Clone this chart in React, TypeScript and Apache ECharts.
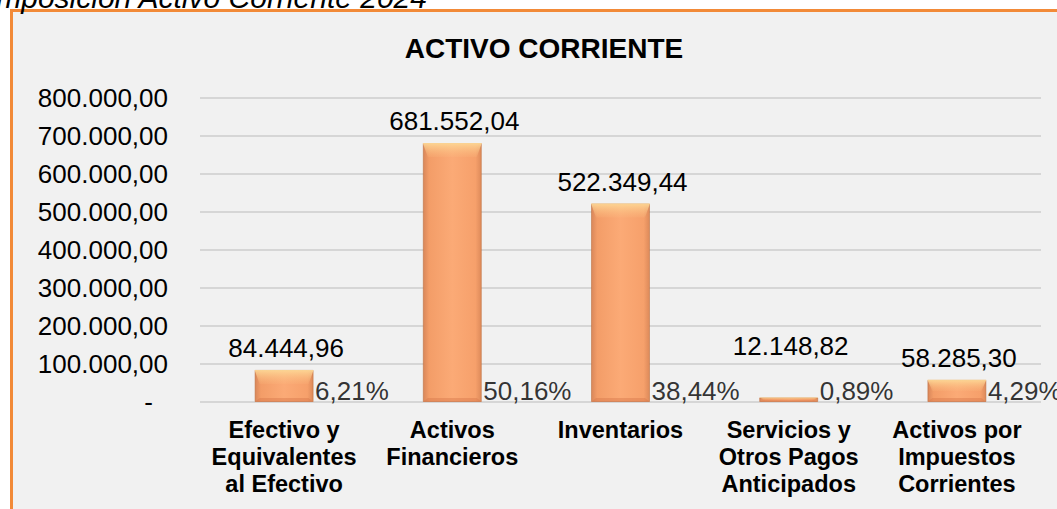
import React, { useEffect, useRef } from "react";
import * as echarts from "echarts";

const categories = [
  "Efectivo y\nEquivalentes\nal Efectivo",
  "Activos\nFinancieros",
  "Inventarios",
  "Servicios y\nOtros Pagos\nAnticipados",
  "Activos por\nImpuestos\nCorrientes",
];
const values = [84444.96, 681552.04, 522349.44, 12148.82, 58285.3];
const percents = [6.21, 50.16, 38.44, 0.89, 4.29];
const yMin = 0;
const yMax = 800000;
const yStep = 100000;
const chartTitle = "ACTIVO CORRIENTE";
const caption = "Composición Activo Corriente 2024";

const FONT = 'Arial, "Liberation Sans", sans-serif';

function fmt(v: number, dec: number): string {
  const fixed = Math.abs(v).toFixed(dec);
  const [intPart, decPart] = fixed.split(".");
  const grouped = intPart.replace(/\B(?=(\d{3})+(?!\d))/g, ".");
  return (v < 0 ? "-" : "") + grouped + (decPart ? "," + decPart : "");
}

const BAR_W = 59;

export default function App() {
  const ref = useRef<HTMLDivElement>(null);
  useEffect(() => {
    if (!ref.current) return;
    const chart = echarts.init(ref.current, undefined, { renderer: "svg" });
    const barGradient = new echarts.graphic.LinearGradient(1, 0, 0, 0, [
      { offset: 0, color: "#dd8a5a" },
      { offset: 0.1, color: "#f6a06b" },
      { offset: 0.5, color: "#fbaa76" },
      { offset: 0.9, color: "#f39d68" },
      { offset: 1, color: "#d9875a" },
    ]);
    const option: any = {
      animation: false,
      backgroundColor: "#ffffff",
      textStyle: { fontFamily: FONT },
      grid: { left: 200, right: 16, top: 98, bottom: 107, containLabel: false },
      graphic: {
        elements: [
          {
            type: "rect",
            z: -10,
            shape: { x: 11.5, y: 10.5, width: 1100, height: 600 },
            style: { fill: "#f1f1f1", stroke: "#f28a38", lineWidth: 3 },
            silent: true,
          },
          {
            type: "text",
            x: 427,
            y: -3,
            style: {
              text: caption,
              font: `italic 30px ${FONT}`,
              fill: "#000",
              align: "right",
              verticalAlign: "middle",
            },
          },
          {
            type: "text",
            x: 544,
            y: 48,
            style: {
              text: chartTitle,
              font: `bold 28px ${FONT}`,
              fill: "#000",
              align: "center",
              verticalAlign: "middle",
            },
          },
        ],
      },
      xAxis: {
        type: "category",
        data: categories,
        axisLine: { show: false },
        axisTick: { show: false },
        axisLabel: {
          color: "#000",
          fontWeight: "bold",
          fontSize: 23.5,
          lineHeight: 27,
          margin: 14,
          fontFamily: FONT,
          interval: 0,
        },
      },
      yAxis: {
        type: "value",
        min: yMin,
        max: yMax,
        interval: yStep,
        axisLine: { show: false },
        axisTick: { show: false },
        splitLine: { lineStyle: { color: "#d6d6d6", width: 2 } },
        axisLabel: {
          color: "#000",
          fontSize: 26,
          margin: 32,
          fontFamily: FONT,
          formatter: (v: number) => (v === 0 ? "{z|-}" : fmt(v, 2)),
          rich: { z: { fontSize: 26, color: "#000", padding: [0, 15, 0, 0], fontFamily: FONT } },
        },
      },
      series: [
        {
          type: "bar",
          barWidth: BAR_W,
          data: values.map((v, i) =>
            i === 3 ? { value: v, label: { offset: [2, -29] } } : { value: v, label: { offset: [2, 0] } }
          ),
          itemStyle: {
            color: barGradient,
            borderColor: "rgba(190,110,60,0.55)",
            borderWidth: 1,
          },
          label: {
            show: true,
            position: "top",
            distance: 9,
            color: "#000",
            fontSize: 26,
            fontFamily: FONT,
            formatter: (p: any) => fmt(p.value, 2),
          },
          z: 2,
        },
        {
          type: "custom",
          silent: true,
          z: 3,
          data: values.map((v, i) => [i, v]),
          renderItem: (params: any, api: any) => {
            const idx = api.value(0);
            const v = api.value(1);
            const top = api.coord([idx, v]);
            const base = api.coord([idx, 0]);
            const w = BAR_W;
            const x0 = top[0] - w / 2;
            const x1 = top[0] + w / 2;
            const h = base[1] - top[1];
            const b = Math.min(14, h / 2);
            const s = Math.min(5, w / 2);
            return {
              type: "group",
              children: [
                {
                  type: "polygon",
                  shape: {
                    points: [
                      [x0, top[1]],
                      [x1, top[1]],
                      [x1 - s, top[1] + b],
                      [x0 + s, top[1] + b],
                    ],
                  },
                  style: {
                    fill: new echarts.graphic.LinearGradient(0, 0, 0, 1, [
                      { offset: 0, color: "rgba(253,216,150,0.95)" },
                      { offset: 1, color: "rgba(251,190,130,0.15)" },
                    ]),
                  },
                },
                {
                  type: "polygon",
                  shape: {
                    points: [
                      [x0, base[1]],
                      [x1, base[1]],
                      [x1 - s, base[1] - Math.min(4, h / 2)],
                      [x0 + s, base[1] - Math.min(4, h / 2)],
                    ],
                  },
                  style: { fill: "rgba(215,120,75,0.45)" },
                },
              ],
            };
          },
        },
        {
          type: "scatter",
          symbolSize: 0,
          silent: true,
          data: percents.map((p, i) => [i, 0, p]),
          encode: { x: 0, y: 1 },
          label: {
            show: true,
            position: "right",
            distance: 0,
            offset: [31, -11],
            color: "#000",
            fontSize: 26,
            fontFamily: FONT,
            formatter: (p: any) => fmt(percents[p.dataIndex], 2) + "%",
          },
          z: 4,
        },
      ],
    };
    chart.setOption(option);
    return () => chart.dispose();
  }, []);
  return (
    <div
      ref={ref}
      style={{ position: "fixed", left: 0, top: 0, width: 1057, height: 509 }}
    />
  );
}
